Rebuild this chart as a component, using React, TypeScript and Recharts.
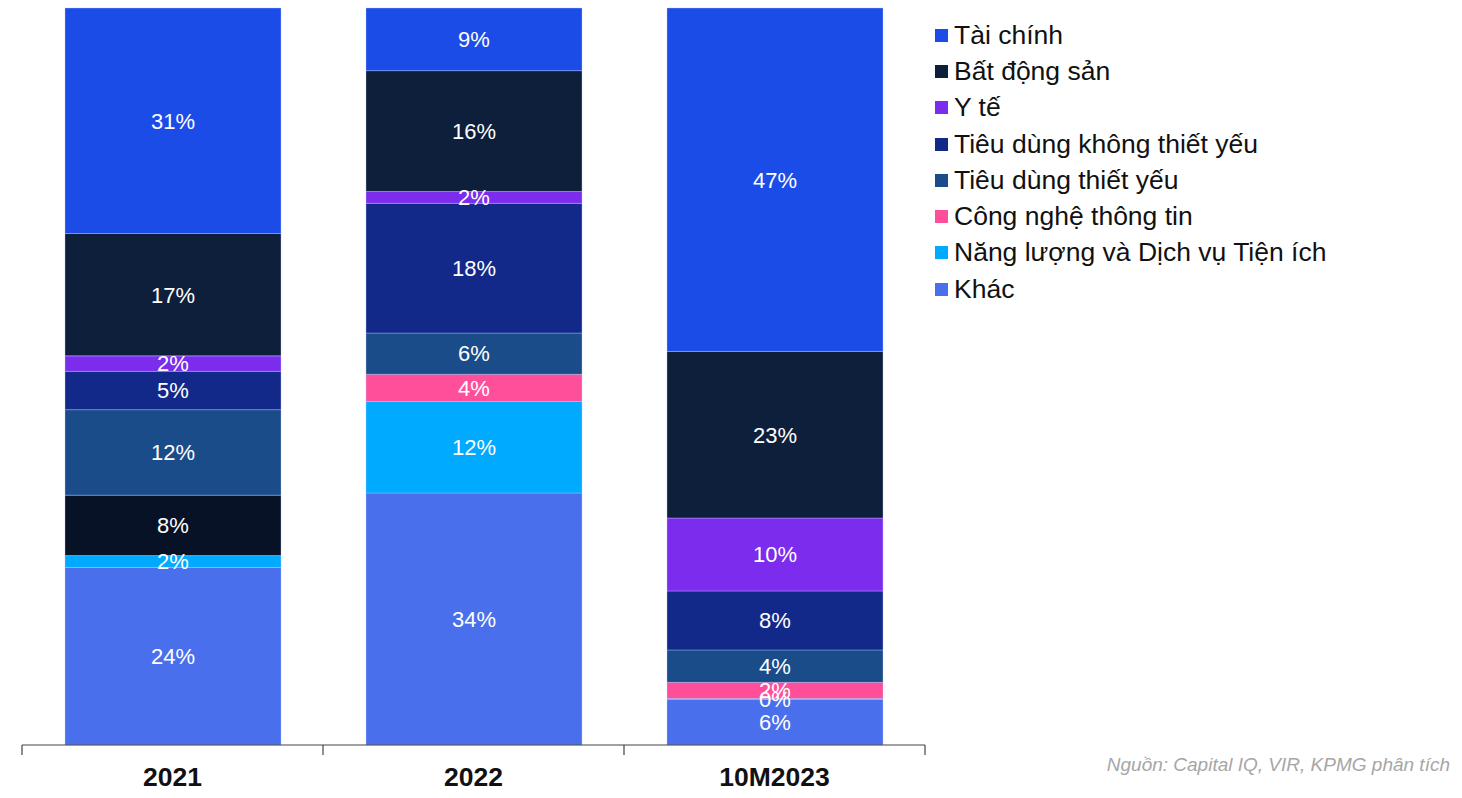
import React from 'react';
import { BarChart, Bar, XAxis, YAxis, LabelList, Cell } from 'recharts';

const years = ['2021', '2022', '10M2023'];

const taiChinh = [30.6, 8.5, 46.6];
const batDongSan = [16.6, 16.4, 22.6];
const yTe = [2.1, 1.6, 9.9];
const tieuDungKhong = [5.2, 17.6, 8.0];
const tieuDungThietYeu = [11.6, 5.6, 4.4];
const congNghe = [8.2, 3.7, 2.2];
const nangLuong = [1.6, 12.4, 0.1];
const khac = [24.1, 34.2, 6.2];

// bottom to top
const series = [
  { key: 'khac', name: 'Khác', values: khac, color: '#4a6fec' },
  { key: 'nangLuong', name: 'Năng lượng và Dịch vụ Tiện ích', values: nangLuong, color: '#00aaff' },
  { key: 'congNghe', name: 'Công nghệ thông tin', values: congNghe, color: '#ff4f9b' },
  { key: 'tdThietYeu', name: 'Tiêu dùng thiết yếu', values: tieuDungThietYeu, color: '#1b4c8a' },
  { key: 'tdKhong', name: 'Tiêu dùng không thiết yếu', values: tieuDungKhong, color: '#13298a' },
  { key: 'yTe', name: 'Y tế', values: yTe, color: '#7b2cec' },
  { key: 'bds', name: 'Bất động sản', values: batDongSan, color: '#0e1f3c' },
  { key: 'taiChinh', name: 'Tài chính', values: taiChinh, color: '#1c4ce8' },
];

const data = years.map((year, i) => {
  const row: Record<string, string | number> = { year };
  series.forEach((s) => {
    row[s.key] = s.values[i];
  });
  return row;
});

const FONT = '"Liberation Sans", Arial, sans-serif';
const PLOT_LEFT = 22;
const PLOT_RIGHT = 925;
const BAND = (PLOT_RIGHT - PLOT_LEFT) / years.length;

const YearTick = (props: any) => {
  const { x, y, payload, index } = props;
  const last = index === years.length - 1;
  return (
    <g>
      <line x1={x - BAND / 2} y1={y - 8} x2={x - BAND / 2} y2={y + 2} stroke="#444" strokeWidth={1.2} />
      {last && <line x1={x + BAND / 2} y1={y - 8} x2={x + BAND / 2} y2={y + 2} stroke="#444" strokeWidth={1.2} />}
      <text x={x} y={y + 33} textAnchor="middle" fontFamily={FONT} fontWeight="bold" fontSize={26.5} fill="#111">
        {payload.value}
      </text>
    </g>
  );
};

const LegendBox = () => (
  <div style={{ position: 'absolute', left: 935, top: 17, fontFamily: FONT, fontSize: 26.5, color: '#111' }}>
    {[...series].reverse().map((s) => (
      <div key={s.key} style={{ display: 'flex', alignItems: 'center', height: 36.3, whiteSpace: 'nowrap' }}>
        <span style={{ display: 'inline-block', width: 13, height: 13, background: s.color, marginRight: 6 }} />
        <span>{s.name}</span>
      </div>
    ))}
  </div>
);

export default function App() {
  return (
    <div style={{ position: 'absolute', left: 0, top: 0, width: 1462, height: 798, background: '#fff' }}>
      <BarChart
        width={1462}
        height={798}
        data={data}
        margin={{ top: 8, right: 1462 - PLOT_RIGHT, bottom: 8, left: PLOT_LEFT }}
        barSize={216}
      >
        <XAxis
          dataKey="year"
          height={45}
          tickLine={false}
          axisLine={{ stroke: '#444', strokeWidth: 1.2 }}
          tick={<YearTick />}
          interval={0}
        />
        <YAxis hide domain={[0, 100]} />
        {series.map((s) => (
          <Bar
            key={s.key}
            dataKey={s.key}
            name={s.name}
            stackId="a"
            fill={s.color}
            stroke="rgba(190,205,255,0.45)"
            strokeWidth={0.8}
            isAnimationActive={false}
          >
            {s.key === 'congNghe' &&
              years.map((y, i) => <Cell key={y} fill={i === 0 ? '#081226' : s.color} />)}
            <LabelList
              dataKey={s.key}
              position="center"
              formatter={(v: any) => `${Math.round(Number(v))}%`}
              fill="#fff"
              fontSize={22}
              fontFamily={FONT}
            />
          </Bar>
        ))}
      </BarChart>
      <LegendBox />
      <div
        style={{
          position: 'absolute',
          right: 12,
          top: 754,
          fontFamily: FONT,
          fontStyle: 'italic',
          fontSize: 19,
          color: '#a6a6a6',
        }}
      >
        Nguồn: Capital IQ, VIR, KPMG phân tích
      </div>
    </div>
  );
}
